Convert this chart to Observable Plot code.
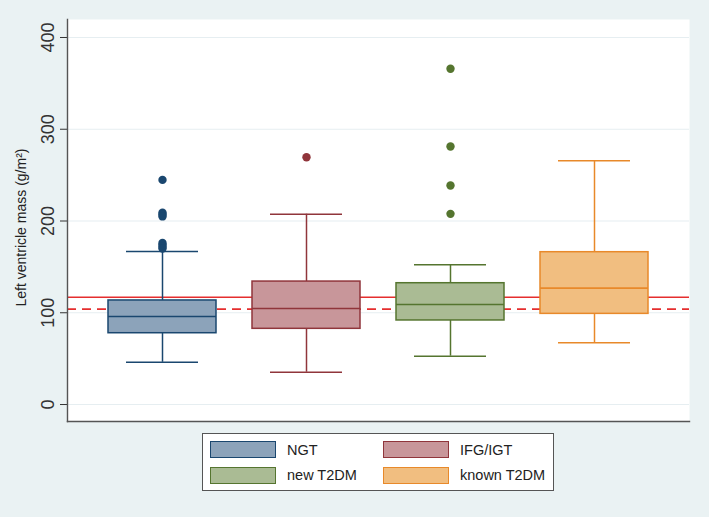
<!DOCTYPE html>
<html>
<head>
<meta charset="utf-8">
<script src="https://cdn.jsdelivr.net/npm/d3@7"></script>
<script src="https://cdn.jsdelivr.net/npm/@observablehq/plot@0.6"></script>
<style>
  html, body { margin: 0; padding: 0; background: #EAF2F3; }
  #wrap { position: relative; width: 709px; height: 517px; background: #EAF2F3; font-family: "Liberation Sans", Arial, sans-serif; }
  #legend { position: absolute; left: 202px; top: 433px; width: 352px; height: 58px; box-sizing: border-box;
    background: #fff; border: 1px solid #555; }
  .item { position: absolute; display: flex; align-items: center; font-size: 14.5px; color: #222; }
  .sw { width: 66px; height: 17px; box-sizing: border-box; border: 1.5px solid; margin-right: 11px; }
</style>
</head>
<body>
<div id="wrap"><div id="chart"></div><div id="legend"></div></div>
<script>
const groups = ["NGT", "IFG/IGT", "new T2DM", "known T2DM"];
const q1 = [77.7, 82.5, 91.6, 98.8];
const medians = [95.9, 104.6, 109.0, 126.8];
const q3 = [113.4, 134.0, 132.2, 166.0];
const lowerWhisker = [46.0, 35.2, 52.7, 67.2];
const upperWhisker = [166.8, 207.4, 152.2, 265.6];
const outlierGroup = ["NGT","NGT","NGT","NGT","NGT","NGT","NGT","NGT","IFG/IGT","new T2DM","new T2DM","new T2DM","new T2DM"];
const outlierValue = [244.8, 209.0, 207.0, 205.0, 176.0, 174.0, 172.0, 170.0, 269.5, 366.0, 281.2, 238.7, 207.8];
const refSolid = [117];
const refDashed = [104];
const yTicks = [0, 100, 200, 300, 400];
const yLabel = "Left ventricle mass (g/m²)";

const strokeColors = ["#1A476F", "#90353B", "#55752F", "#E8892A"];
const fillColors = ["#8CA3BA", "#C8969A", "#AABB94", "#F1BE80"];

const boxes = groups.map((g, i) => ({group: g, q1: q1[i], med: medians[i], q3: q3[i], lo: lowerWhisker[i], hi: upperWhisker[i]}));
const outliers = outlierGroup.map((g, i) => ({group: g, value: outlierValue[i]}));

const font = '"Liberation Sans", Arial, sans-serif';

const chart = Plot.plot({
  width: 709,
  height: 428,
  marginLeft: 67,
  marginRight: 20,
  marginTop: 19,
  marginBottom: 7,
  style: {background: "transparent", fontFamily: font, color: "#222"},
  x: {domain: groups, paddingInner: 0.25, paddingOuter: 0.273, axis: null},
  y: {domain: [-18.5, 419.6], axis: null},
  color: {domain: groups, range: strokeColors},
  marks: [
    Plot.frame({fill: "white", stroke: null}),
    Plot.gridY(yTicks, {stroke: "#E6EEF1", strokeOpacity: 1, strokeWidth: 1.2}),
    Plot.axisY({ticks: yTicks, tickRotate: -90, tickSize: 7, tickPadding: 7, fontSize: 18, label: null, stroke: "#333", fill: "#333", textStroke: "none"}),
    Plot.text([yLabel], {frameAnchor: "left", textAnchor: "middle", lineAnchor: "middle", rotate: -90, dx: -46, dy: 7, fontSize: 14, fill: "#222"}),
    Plot.ruleY(refSolid, {stroke: "#E52E2E", strokeWidth: 1.5}),
    Plot.ruleY(refDashed, {stroke: "#E52E2E", strokeWidth: 1.8, strokeDasharray: "9,6"}),
    Plot.ruleX(boxes, {x: "group", y1: "q3", y2: "hi", stroke: "group", strokeWidth: 1.5}),
    Plot.ruleX(boxes, {x: "group", y1: "lo", y2: "q1", stroke: "group", strokeWidth: 1.5}),
    Plot.tickY(boxes, {x: "group", y: "hi", stroke: "group", strokeWidth: 1.5, insetLeft: 18, insetRight: 18}),
    Plot.tickY(boxes, {x: "group", y: "lo", stroke: "group", strokeWidth: 1.5, insetLeft: 18, insetRight: 18}),
    Plot.barY(boxes, {x: "group", y1: "q1", y2: "q3", fill: d => fillColors[groups.indexOf(d.group)], stroke: "group", strokeWidth: 1.5}),
    Plot.tickY(boxes, {x: "group", y: "med", stroke: "group", strokeWidth: 1.6}),
    Plot.dot(outliers, {x: "group", y: "value", fill: "group", r: 4.2, stroke: null}),
    Plot.frame({anchor: "left", stroke: "#555", strokeWidth: 1.4}),
    Plot.frame({anchor: "bottom", stroke: "#555", strokeWidth: 1.4})
  ]
});
document.getElementById("chart").appendChild(chart);

// legend
const legend = document.getElementById("legend");
const pos = [[7, 7], [180, 7], [7, 32.5], [180, 32.5]];
groups.forEach((g, i) => {
  const it = document.createElement("div");
  it.className = "item";
  it.style.left = pos[i][0] + "px";
  it.style.top = pos[i][1] + "px";
  const sw = document.createElement("div");
  sw.className = "sw";
  sw.style.background = fillColors[i];
  sw.style.borderColor = strokeColors[i];
  const lab = document.createElement("span");
  lab.textContent = g;
  it.appendChild(sw);
  it.appendChild(lab);
  legend.appendChild(it);
});
</script>
</body>
</html>
